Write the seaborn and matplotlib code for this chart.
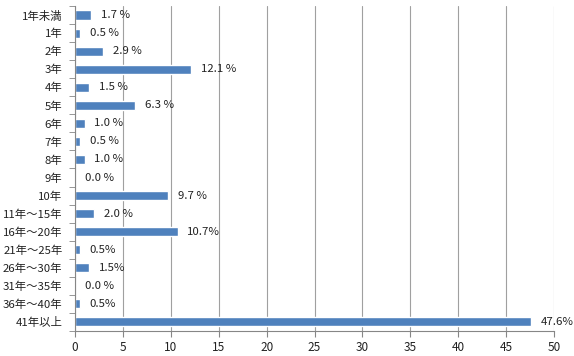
import numpy as np
import pandas as pd
import matplotlib
matplotlib.use('Agg')
import matplotlib.pyplot as plt
import seaborn as sns
from matplotlib.ticker import FixedLocator

# data
categories = ['1年未満', '1年', '2年', '3年', '4年', '5年', '6年', '7年', '8年', '9年',
              '10年', '11年～15年', '16年～20年', '21年～25年', '26年～30年',
              '31年～35年', '36年～40年', '41年以上']
values = [1.7, 0.5, 2.9, 12.1, 1.5, 6.3, 1.0, 0.5, 1.0, 0.0,
          9.7, 2.0, 10.7, 0.5, 1.5, 0.0, 0.5, 47.6]
value_labels = ['1.7 %', '0.5 %', '2.9 %', '12.1 %', '1.5 %', '6.3 %', '1.0 %', '0.5 %',
                '1.0 %', '0.0 %', '9.7 %', '2.0 %', '10.7%', '0.5%', '1.5%',
                '0.0 %', '0.5%', '47.6%']
x_ticks = [0, 5, 10, 15, 20, 25, 30, 35, 40, 45, 50]

sns.set_style('white')
plt.rcParams['font.family'] = ['Noto Sans CJK JP', 'DejaVu Sans']

df = pd.DataFrame({'cat': categories, 'val': values})

fig = plt.figure(figsize=(5.74, 3.56), dpi=100)
ax = fig.add_axes([0.1307, 0.0702, 0.8345, 0.9130])

sns.barplot(data=df, x='val', y='cat', orient='h', color='#4f81bd',
            saturation=1, width=0.5, ax=ax)

ax.bar_label(ax.containers[0], labels=value_labels, padding=7,
             fontsize=8.2, color='#222222')

ax.set_xlim(0, 50)
ax.set_ylim(len(categories) - 0.5, -0.5)
ax.set_xticks(x_ticks)
ax.set_xlabel('')
ax.set_ylabel('')

ax.xaxis.grid(True, color='#a0a0a0', linewidth=0.8)
ax.set_axisbelow(True)

for side in ['top', 'right']:
    ax.spines[side].set_visible(False)
ax.spines['left'].set_color('#868686')
ax.spines['bottom'].set_color('#868686')
ax.spines['left'].set_linewidth(0.8)
ax.spines['bottom'].set_linewidth(0.8)

# ticks on the category boundaries on the left axis
ax.yaxis.set_minor_locator(FixedLocator(np.arange(-0.5, len(categories), 1)))
ax.tick_params(axis='y', which='major', length=0, pad=9, labelsize=8.2, labelcolor='#222222')
ax.tick_params(axis='y', which='minor', length=4, color='#868686', direction='out', left=True)
ax.tick_params(axis='x', which='major', length=4, color='#868686', direction='out',
               bottom=True, labelsize=8.5, labelcolor='#222222', pad=3)

fig.savefig('out.png', dpi=100)
